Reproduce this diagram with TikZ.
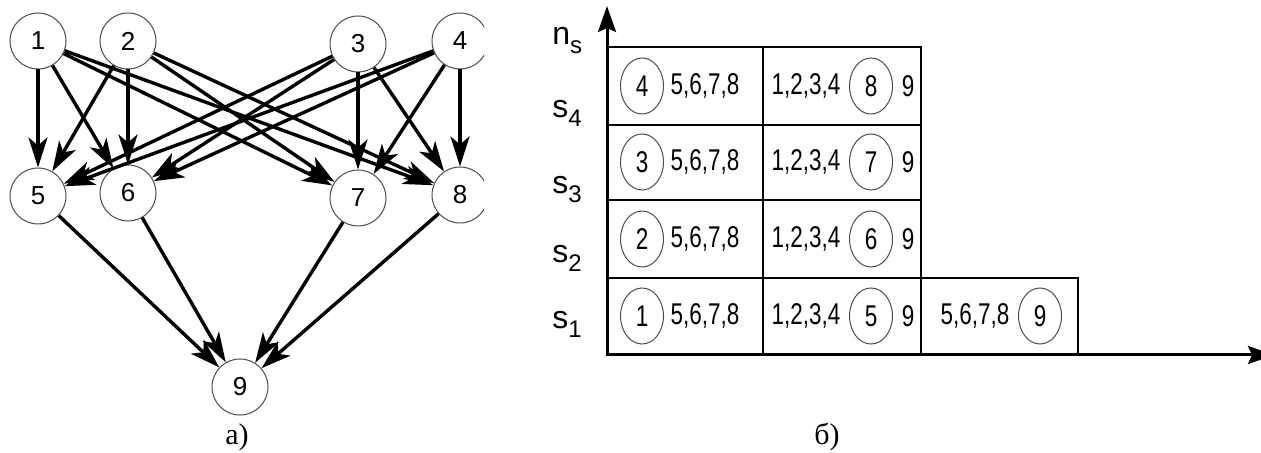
\documentclass[tikz,border=0pt]{standalone}
\usepackage{fontspec}
\setmainfont{Liberation Serif}
\setsansfont{Liberation Sans}
\newfontfamily\narrowsans[FakeStretch=0.75]{Liberation Sans}
\usetikzlibrary{arrows.meta,positioning,shapes.geometric}
\newcommand{\lvl}[2]{#1\raisebox{-4.5pt}{\fontsize{12}{12}\selectfont #2}}

\begin{document}
\begin{tikzpicture}[x=0.5pt,y=-0.5pt,
    vertex/.style={circle,draw=black!70,line width=0.5pt,minimum size=28pt,
        inner sep=0pt,font=\sffamily\fontsize{13}{13}\selectfont},
    arc/.style={line width=1.7pt,-{Stealth[length=15pt,width=9.5pt,inset=4pt]}},
    ringnode/.style={ellipse,draw=black!70,line width=0.5pt,minimum width=21.5pt,
        minimum height=28pt,inner sep=0pt,font=\narrowsans\fontsize{15}{15}\selectfont},
    celltext/.style={inner sep=0pt,font=\narrowsans\fontsize{15}{15}\selectfont},
    axis/.style={line width=1.5pt,-{Stealth[length=13pt,width=9pt,inset=2pt]}},
    grid/.style={line width=0.6pt},
    level/.style={anchor=base west,inner sep=0pt,font=\sffamily\fontsize{16}{16}\selectfont},
    caption/.style={font=\fontsize{15}{15}\selectfont}]
    \useasboundingbox (0,0) rectangle (1261,453);

    % a) graph
    \begin{scope}
        \clip (0,0) rectangle (484,453);
        \node[vertex] (g1) at (38,41) {1};
        \node[vertex] (g2) at (128,41) {2};
        \node[vertex] (g3) at (358,44) {3};
        \node[vertex] (g4) at (460,41) {4};
        \node[vertex] (g5) at (38,196) {5};
        \node[vertex] (g6) at (128,193) {6};
        \node[vertex] (g7) at (358,198) {7};
        \node[vertex] (g8) at (460,195) {8};
        \node[vertex] (g9) at (240,387) {9};
        \foreach \u in {1,...,4}
            \foreach \v in {5,...,8}
                \draw[arc] (g\u) -- (g\v);
        \foreach \v in {5,...,8}
            \draw[arc] (g\v) -- (g9);
    \end{scope}
    \node[caption] (capa) at (237,437) {а)};

    % b) schedule
    \coordinate (origin) at (607,355);
    \coordinate (ytip) at (607,6);
    \coordinate (xtip) at (1274,355);
    \draw[grid] (607,47) rectangle (921,355);
    \draw[grid] (921,278) rectangle (1078,355);
    \draw[grid] (763,47) -- (763,355);
    \foreach \yy in {125,200,278}
        \draw[grid] (607,\yy) -- (921,\yy);
    \draw[axis] (origin) -- (ytip);
    \draw[axis] (origin) -- (xtip);

    \foreach \r/\yc in {1/316,2/239,3/162,4/86} {
        \pgfmathtruncatemacro\q{\r+4}
        \node[ringnode] (a\r) at (642,\yc) {\r};
        \node[celltext] (b\r) at (705,\yc) {5,6,7,8};
        \node[celltext] (c\r) at (806,\yc) {1,2,3,4};
        \node[ringnode] (d\r) at (871,\yc) {\q};
        \node[celltext] (e\r) at (908,\yc) {9};
    }
    \node[celltext] (f1) at (975,316) {5,6,7,8};
    \node[ringnode] (h1) at (1040,316) {9};

    \foreach \r/\yy in {1/329,2/263,3/194,4/118}
        \node[level] (s\r) at (552,\yy) {\lvl{s}{\r}};
    \node[level] (ns) at (552,45) {\lvl{n}{s}};
    \node[caption] (capb) at (827,437) {б)};
\end{tikzpicture}
\end{document}
